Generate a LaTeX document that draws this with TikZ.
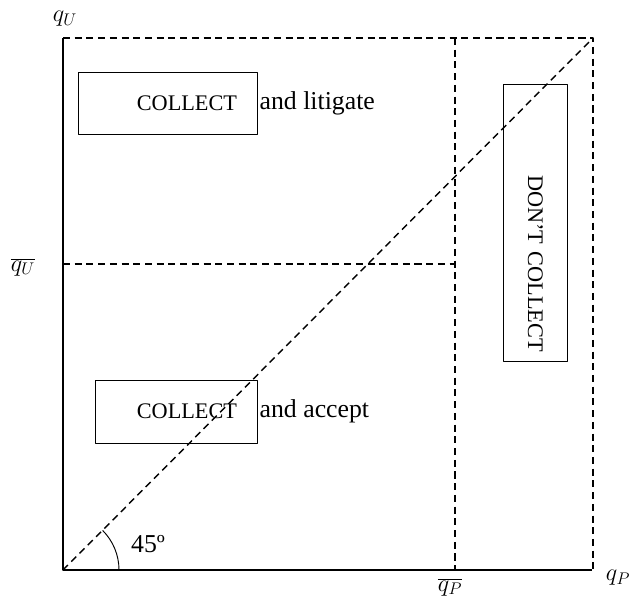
\documentclass[tikz,border=0pt]{standalone}
\usepackage{fontspec}
\setmainfont{Liberation Serif}
\usetikzlibrary{positioning}

\begin{document}
\begin{tikzpicture}[x=0.03cm,y=0.03cm,line join=round,
  axis/.style={line width=2.4pt},
  guide/.style={line width=1.2pt,dash pattern=on 6pt off 4pt},
  region/.style={draw,line width=0.7pt,align=right,font=\fontsize{19}{22}\selectfont},
  tag/.style={font=\fontsize{22}{26}\selectfont,inner sep=0pt}]
  \useasboundingbox (0,0) rectangle (631,599);
  \coordinate (O) at (63,29);
  \coordinate (QU) at (63,561);
  \coordinate (QP) at (592,29);
  \coordinate (TR) at (593,561);
  \coordinate (BR) at (593,29);
  \coordinate (PT) at (455,561);
  \coordinate (PB) at (455,29);
  \coordinate (UL) at (63,335);
  \coordinate (UR) at (455,335);
  % dashed guides
  \draw[guide] (QU) -- (TR) -- (BR);
  \draw[guide] (PT) -- (PB);
  \draw[guide] (UL) -- (UR);
  \draw[guide] (O) -- (TR);
  % axes
  \draw[axis] (QU) -- (O) -- (QP);
  \draw[line width=0.8pt] (119,29) arc (0:45:56);
  \node[tag] (deg) at (148,55) {45º};
  % axis labels
  \node[tag] (qU) at (65,580) {$q_U$};
  \node[tag] (qUbar) at (23,332) {$\overline{q_U}$};
  \node[tag] (qPbar) at (450,12) {$\overline{q_P}$};
  \node[tag] (qP) at (618,21) {$q_P$};
  % regions
  \node[region,minimum width=5.37cm,minimum height=1.86cm,text width=4.17cm,inner xsep=0.6cm]
    (litigate) at (167.5,496) {COLLECT};
  \node[tag,right=0.06cm of litigate] (litigatetxt) {and litigate};
  \node[region,minimum width=4.86cm,minimum height=1.89cm,text width=3.66cm,inner xsep=0.6cm]
    (accept) at (176,187.5) {COLLECT};
  \node[tag,right=0.06cm of accept] (accepttxt) {and accept};
  \node[region,rotate=-90,minimum width=8.31cm,minimum height=1.92cm,text width=7.77cm,inner xsep=0.27cm]
    (dont) at (535.5,376.5) {DON'T COLLECT};
\end{tikzpicture}
\end{document}
